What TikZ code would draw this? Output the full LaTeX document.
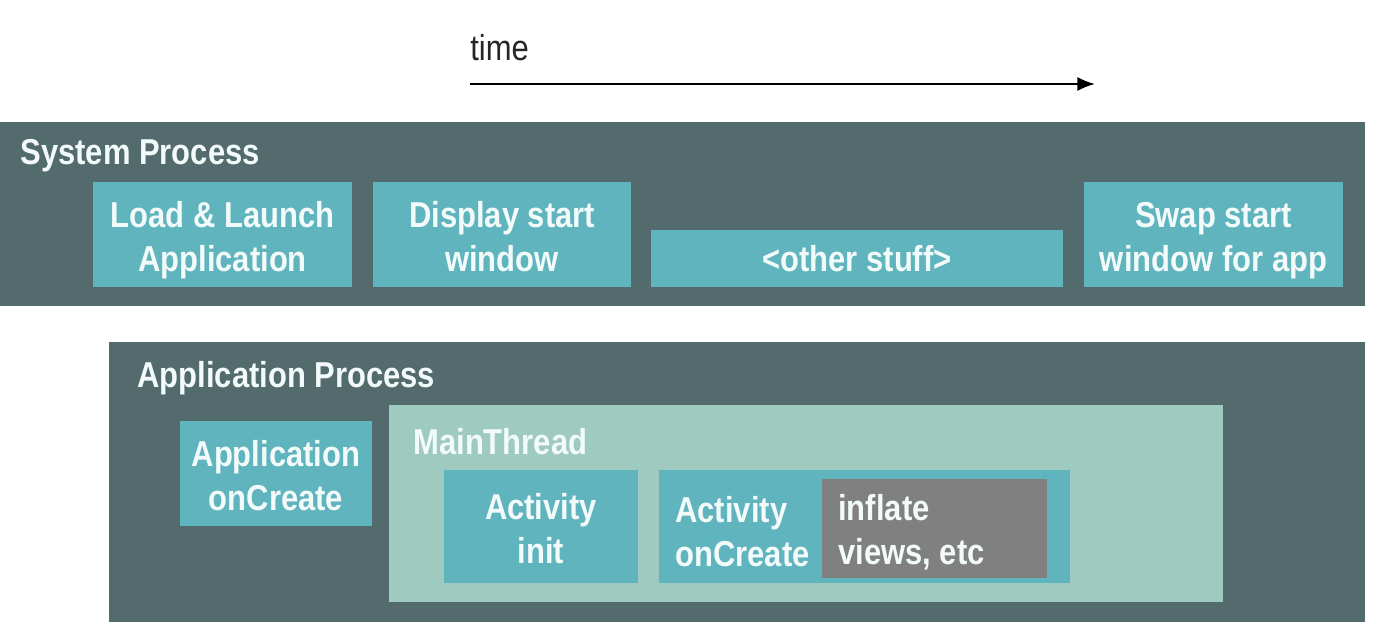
\documentclass[tikz,border=0pt]{standalone}
\usepackage{fontspec}
\setmainfont{Liberation Sans}[FakeStretch=0.86]
\usetikzlibrary{arrows.meta}

\definecolor{panelgray}{HTML}{536B6D}
\definecolor{boxteal}{HTML}{60B4BE}
\definecolor{threadgreen}{HTML}{9ECAC0}
\definecolor{inflategray}{HTML}{808080}
\definecolor{labelwhite}{HTML}{F2FAFA}

% text v krabicce, mirne posunuty dolu
\newcommand{\steptext}[1]{\raisebox{0pt}[\dimexpr\height+0.12cm][\dimexpr\depth-0.12cm]{%
  \begin{tabular}{@{}c@{}}#1\end{tabular}}}

\tikzset{
  panel/.style={fill=panelgray, draw=none},
  stepbox/.style={fill=boxteal, draw=none, text=labelwhite,
    inner sep=0pt, font=\fontsize{20.5}{25}\selectfont\bfseries},
  title/.style={text=labelwhite, anchor=west, inner sep=0pt,
    font=\fontsize{20.5}{25}\selectfont\bfseries},
}

\begin{document}
\begin{tikzpicture}
    \useasboundingbox[fill=white] (0,0) rectangle (27.52,12.6);

    % Osa casu
    \coordinate (tstart) at (9.4,10.92);
    \coordinate (tend) at (21.9,10.92);
    \draw[line width=1.2pt, -{Latex[length=10pt,width=8pt]}] (tstart) -- (tend);
    \node[anchor=west, inner sep=0pt, text=black!85,
      font=\fontsize{20.5}{24}\selectfont] (time) at (9.4,11.64) {time};

    % Systemovy proces
    \fill[panel] (0,6.48) rectangle (27.3,10.16);
    \node[title] (sys) at (0.4,9.48) {System Process};
    \node[stepbox, minimum width=5.18cm, minimum height=2.1cm] (load) at (4.45,7.91)
      {\steptext{Load \& Launch\\Application}};
    \node[stepbox, minimum width=5.16cm, minimum height=2.1cm] (display) at (10.04,7.91)
      {\steptext{Display start\\window}};
    \node[stepbox, minimum width=8.24cm, minimum height=1.14cm] (other) at (17.14,7.43)
      {<other stuff>};
    \node[stepbox, minimum width=5.18cm, minimum height=2.1cm] (swap) at (24.27,7.91)
      {\steptext{Swap start\\window for app}};

    % Aplikacni proces
    \fill[panel] (2.18,0.16) rectangle (27.3,5.76);
    \node[title] (app) at (2.74,5.04) {Application Process};
    \node[stepbox, minimum width=3.84cm, minimum height=2.1cm] (appcreate) at (5.52,3.13)
      {\steptext{Application\\onCreate}};

    % Hlavni vlakno
    \fill[threadgreen] (7.78,0.56) rectangle (24.46,4.5);
    \node[title] (main) at (8.26,3.76) {MainThread};
    \node[stepbox, minimum width=3.88cm, minimum height=2.26cm] (actinit) at (10.82,2.07)
      {\steptext{Activity\\init}};
    \node[stepbox, minimum width=8.22cm, minimum height=2.26cm] (actcreate) at (17.29,2.07) {};
    \node[title, align=left] (actlabel) at (13.5,1.96) {Activity\\onCreate};
    \node[fill=inflategray, minimum width=4.5cm, minimum height=1.98cm, inner sep=0pt]
      (inflate) at (18.69,2.03) {};
    \node[title, align=left] (inflatelabel) at (16.76,1.96) {inflate\\views, etc};
\end{tikzpicture}
\end{document}
